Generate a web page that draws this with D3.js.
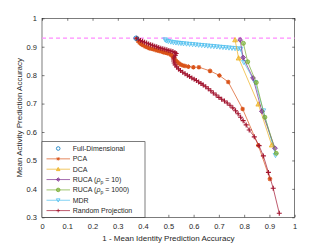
<!DOCTYPE html>
<html>
<head>
<meta charset="utf-8">
<script src="https://cdn.jsdelivr.net/npm/d3@7"></script>
<style>
  body { margin: 0; background: #fff; }
  text { font-family: "Liberation Sans", Arial, sans-serif; fill: #262626; }
</style>
</head>
<body>
<div id="svg"></div>
<script>
// data: [1 - identity acc, activity acc]
var fullDim = [[0.372, 0.930]];
var pca = [[0.375,0.928],[0.380,0.920],[0.386,0.914],[0.393,0.909],[0.400,0.905],[0.408,0.901],
  [0.416,0.898],[0.424,0.895],[0.432,0.893],[0.440,0.891],[0.448,0.889],[0.456,0.887],[0.464,0.885],
  [0.472,0.883],[0.480,0.881],[0.488,0.879],[0.496,0.877],[0.504,0.875],[0.511,0.872],[0.516,0.867],
  [0.520,0.862],[0.525,0.857],[0.530,0.851],[0.536,0.846],[0.543,0.841],[0.550,0.837],[0.558,0.834],
  [0.566,0.832],[0.579,0.830],[0.599,0.828],[0.621,0.828],[0.665,0.815],[0.702,0.799],[0.737,0.776],
  [0.794,0.681],[0.856,0.553],[0.902,0.435]];
var dca = [[0.764,0.924],[0.778,0.860],[0.856,0.698],[0.909,0.554]];
var ruca10 = [[0.784,0.924],[0.796,0.862],[0.835,0.790],[0.870,0.673],[0.922,0.543]];
var ruca1000 = [[0.797,0.912],[0.814,0.847],[0.848,0.774],[0.882,0.652],[0.927,0.525]];
var mdr = [[0.487,0.925],[0.492,0.921],[0.500,0.919],[0.510,0.917],[0.520,0.915],[0.530,0.914],
  [0.540,0.913],[0.550,0.912],[0.560,0.911],[0.572,0.910],[0.584,0.909],[0.596,0.908],[0.608,0.907],
  [0.620,0.906],[0.632,0.905],[0.644,0.904],[0.656,0.903],[0.668,0.902],[0.680,0.901],[0.692,0.900],
  [0.704,0.899],[0.716,0.898],[0.728,0.897],[0.740,0.896],[0.752,0.895],[0.764,0.894],[0.776,0.893],
  [0.786,0.892],[0.799,0.845],[0.843,0.775],[0.876,0.675],[0.924,0.518]];
var randProj = [[0.375,0.930],[0.382,0.926],[0.390,0.922],[0.398,0.919],[0.406,0.916],[0.414,0.913],
  [0.422,0.910],[0.430,0.907],[0.438,0.905],[0.446,0.902],[0.454,0.900],[0.462,0.897],[0.470,0.895],
  [0.478,0.893],[0.486,0.891],[0.494,0.889],[0.502,0.887],[0.510,0.885],[0.518,0.883],[0.526,0.880],
  [0.531,0.876],[0.528,0.870],[0.523,0.864],[0.520,0.857],[0.521,0.850],[0.523,0.843],[0.527,0.836],
  [0.533,0.829],[0.540,0.822],[0.548,0.816],[0.557,0.810],[0.566,0.805],[0.575,0.800],[0.584,0.795],
  [0.593,0.790],[0.602,0.786],[0.611,0.781],[0.620,0.776],[0.629,0.771],[0.638,0.765],[0.648,0.759],
  [0.658,0.752],[0.668,0.745],[0.678,0.737],[0.689,0.730],[0.700,0.722],[0.711,0.715],[0.722,0.709],
  [0.733,0.702],[0.744,0.694],[0.755,0.685],[0.766,0.675],[0.776,0.664],[0.786,0.652],[0.796,0.640],
  [0.808,0.625],[0.820,0.607],[0.840,0.583],[0.859,0.552],[0.876,0.516],[0.896,0.458],[0.915,0.402],
  [0.939,0.314]];
var baseline = 0.93;
var xTicks = [0,0.1,0.2,0.3,0.4,0.5,0.6,0.7,0.8,0.9,1];
var yTicks = [0.3,0.4,0.5,0.6,0.7,0.8,0.9,1];
var seriesNames = ['Full-Dimensional','PCA','DCA','RUCA (\u03c1_p = 10)','RUCA (\u03c1_p = 1000)','MDR','Random Projection'];

var width = 327, height = 245;
var padding = { top: 18.3, right: 32.3, bottom: 27.7, left: 42 };

var svg = d3.select('#svg').append('svg')
  .attr('width', width).attr('height', height);

var xScale = d3.scaleLinear().domain([0, 1]).range([padding.left, width - padding.right]);
var yScale = d3.scaleLinear().domain([0.3, 1]).range([height - padding.bottom, padding.top]);

// marker shapes
var mk = {
  circle: function(s){ return 'M' + s + ',0A' + s + ',' + s + ' 0 1,1 ' + (-s) + ',0A' + s + ',' + s + ' 0 1,1 ' + s + ',0Z'; },
  triUp: function(s){ return 'M0,' + (-s) + 'L' + s + ',' + (s*0.8) + 'L' + (-s) + ',' + (s*0.8) + 'Z'; },
  triDown: function(s){ return 'M0,' + s + 'L' + s + ',' + (-s*0.8) + 'L' + (-s) + ',' + (-s*0.8) + 'Z'; },
  diamond: function(s){ return 'M0,' + (-s) + 'L' + s + ',0L0,' + s + 'L' + (-s) + ',0Z'; },
  plus: function(s){ return 'M' + (-s) + ',0H' + s + 'M0,' + (-s) + 'V' + s; },
  star: function(s){ var k = s*0.7; return 'M' + (-s) + ',0H' + s + 'M0,' + (-s) + 'V' + s + 'M' + (-k) + ',' + (-k) + 'L' + k + ',' + k + 'M' + (-k) + ',' + k + 'L' + k + ',' + (-k); }
};

var series = [
  { name: seriesNames[0], data: fullDim, color: '#0072BD', marker: 'circle', size: 2.2, fill: 'none', line: false },
  { name: seriesNames[1], data: pca, color: '#D95319', marker: 'star', size: 2.3, fill: 'none', line: true },
  { name: seriesNames[2], data: dca, color: '#EDB120', marker: 'triUp', size: 2.4, fill: '#EDB120', line: true },
  { name: seriesNames[3], data: ruca10, color: '#7E2F8E', marker: 'diamond', size: 2.4, fill: '#7E2F8E', line: true },
  { name: seriesNames[4], data: ruca1000, color: '#77AC30', marker: 'circle', size: 2.0, fill: '#77AC30', line: true },
  { name: seriesNames[5], data: mdr, color: '#4DBEEE', marker: 'triDown', size: 2.3, fill: 'none', line: true },
  { name: seriesNames[6], data: randProj, color: '#A2142F', marker: 'plus', size: 2.5, fill: 'none', line: true }
];

// box + ticks
var g = svg.append('g');
g.append('rect')
  .attr('x', xScale(0)).attr('y', yScale(1))
  .attr('width', xScale(1) - xScale(0)).attr('height', yScale(0.3) - yScale(1))
  .attr('fill', 'none').attr('stroke', '#262626').attr('stroke-width', 0.6);

var xAxis = d3.axisBottom(xScale).tickValues(xTicks).tickSizeInner(-2.5).tickSizeOuter(0).tickPadding(6)
  .tickFormat(function(d){ return d3.format('')(d); });
var yAxis = d3.axisLeft(yScale).tickValues(yTicks).tickSizeInner(-2.5).tickSizeOuter(0).tickPadding(5)
  .tickFormat(function(d){ return d3.format('')(d); });
var xTop = d3.axisTop(xScale).tickValues(xTicks).tickSizeInner(-2.5).tickSizeOuter(0).tickFormat('');
var yRight = d3.axisRight(yScale).tickValues(yTicks).tickSizeInner(-2.5).tickSizeOuter(0).tickFormat('');

function styleAxis(sel) {
  sel.select('.domain').remove();
  sel.selectAll('line').attr('stroke', '#262626').attr('stroke-width', 0.6);
  sel.selectAll('text').attr('font-size', 7.5).attr('fill', '#262626')
    .style('font-family', '"Liberation Sans", Arial, sans-serif');
}
svg.append('g').attr('transform', 'translate(0,' + yScale(0.3) + ')').call(xAxis).call(styleAxis);
svg.append('g').attr('transform', 'translate(' + xScale(0) + ',0)').call(yAxis).call(styleAxis);
svg.append('g').attr('transform', 'translate(0,' + yScale(1) + ')').call(xTop).call(styleAxis);
svg.append('g').attr('transform', 'translate(' + xScale(1) + ',0)').call(yRight).call(styleAxis);

// axis titles
svg.append('text')
  .attr('x', (xScale(0) + xScale(1)) / 2).attr('y', 241)
  .attr('text-anchor', 'middle').attr('font-size', 8)
  .text('1 - Mean Identity Prediction Accuracy');
svg.append('text')
  .attr('transform', 'translate(22,' + ((yScale(0.3) + yScale(1)) / 2) + ') rotate(-90)')
  .attr('text-anchor', 'middle').attr('font-size', 8)
  .text('Mean Activity Prediction Accuracy');

// baseline
svg.append('line')
  .attr('x1', xScale(0)).attr('x2', xScale(1))
  .attr('y1', yScale(baseline)).attr('y2', yScale(baseline))
  .attr('stroke', '#ff8cff').attr('stroke-width', 1.3).attr('stroke-dasharray', '4,3');

var linePath = d3.line()
  .x(function(d){ return xScale(d[0]); })
  .y(function(d){ return yScale(d[1]); });

// draw order: random projection & pca under the others
var order = [1, 6, 5, 2, 3, 4, 0];
order.forEach(function(i) {
  var s = series[i];
  var sg = svg.append('g');
  if (s.line) {
    sg.append('path').attr('d', linePath(s.data))
      .attr('fill', 'none').attr('stroke', s.color).attr('stroke-width', 0.7);
  }
  sg.selectAll('path.m').data(s.data).enter().append('path')
    .attr('class', 'm')
    .attr('d', mk[s.marker](s.size))
    .attr('transform', function(d){ return 'translate(' + xScale(d[0]) + ',' + yScale(d[1]) + ')'; })
    .attr('fill', s.fill).attr('fill-opacity', 0.6)
    .attr('stroke', s.color).attr('stroke-width', i === 6 || i === 1 ? 1.1 : 0.8);
});

// legend
var lx = xScale(0), ly = 141.7, lw = 103, lh = yScale(0.3) - 141.7;
var leg = svg.append('g');
leg.append('rect').attr('x', lx).attr('y', ly).attr('width', lw).attr('height', lh)
  .attr('fill', '#fff').attr('stroke', '#262626').attr('stroke-width', 0.6);
series.forEach(function(s, i) {
  var cy = ly + 6.8 + i * 10.35;
  if (s.line) {
    leg.append('line').attr('x1', lx + 4.5).attr('x2', lx + 28)
      .attr('y1', cy).attr('y2', cy).attr('stroke', s.color).attr('stroke-width', 0.7);
  }
  leg.append('path').attr('d', mk[s.marker](Math.min(s.size, 1.8)))
    .attr('transform', 'translate(' + (lx + 16.2) + ',' + cy + ')')
    .attr('fill', s.fill).attr('fill-opacity', 0.6)
    .attr('stroke', s.color).attr('stroke-width', 0.8);
  var t = leg.append('text').attr('x', lx + 30.7).attr('y', cy + 2.5).attr('font-size', 7);
  if (i === 3 || i === 4) {
    t.append('tspan').text('RUCA (');
    t.append('tspan').attr('font-style', 'italic').text('\u03c1');
    t.append('tspan').attr('font-size', 5).attr('dy', 1.5).text('p');
    t.append('tspan').attr('dy', -1.5).text(i === 3 ? ' = 10)' : ' = 1000)');
  } else {
    t.text(s.name);
  }
});
</script>
</body>
</html>
